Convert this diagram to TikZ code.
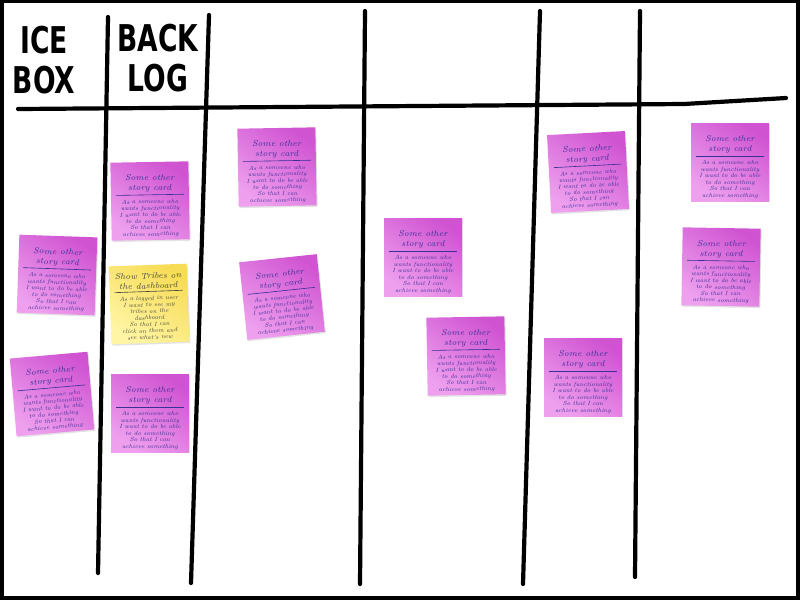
\documentclass[tikz,border=0pt]{standalone}
\usepackage{fontspec}
\newfontfamily\headfont{DejaVu Sans}[FakeStretch=0.72]
\usetikzlibrary{shadows}
\definecolor{noteDark}{RGB}{208,84,210}
\definecolor{noteLight}{RGB}{238,160,238}
\definecolor{yelDark}{RGB}{247,220,85}
\definecolor{yelLight}{RGB}{255,245,165}
\definecolor{inkBlue}{RGB}{58,48,150}
\definecolor{inkGray}{RGB}{70,70,60}
\newcommand\cardbody[3]{\parbox[t][1.5cm][t]{1.52cm}{\centering\itshape
  \fontsize{4.8}{5.7}\selectfont\vspace*{#1}#2\par
  \fontsize{3.4}{3.7}\selectfont
  \nointerlineskip\vspace{1.3pt}\rule{1.36cm}{0.35pt}\par
  \nointerlineskip\vspace{2.4pt}#3\par}}
\newcommand\pinktext{\cardbody{6.3pt}{Some other\\story card}{As a someone who\\wants functionality\\I want to do be able\\to do something\\So that I can\\achieve something}}
\newcommand\yellowtext{\cardbody{3.6pt}{Show Tribes on\\the dashboard}{As a logged in user\\I want to see my\\tribes on the\\dashboard\\So that I can\\click on them and\\see what's new}}
\tikzset{
  board/.style={line width=4.2pt*0.569, line cap=round, line join=round, black},
  card/.style={minimum width=1.56cm, minimum height=1.56cm, inner sep=0pt,
    drop shadow={opacity=0.22, shadow xshift=0.6pt, shadow yshift=-0.8pt}},
  pinkcard/.style={card, top color=noteDark, bottom color=noteLight, shading angle=-35, text=inkBlue},
  yellowcard/.style={card, top color=yelDark, bottom color=yelLight, shading angle=-35, text=inkGray},
  head/.style={font=\headfont\bfseries\fontsize{21}{22.8}\selectfont, align=center, inner sep=0pt}
}
\begin{document}
\begin{tikzpicture}[x=0.02cm, y=-0.02cm]
\useasboundingbox (0,0) rectangle (800,600);
\fill[black] (0,0) rectangle (800,600);
\fill[white] (4,3) rectangle (796,596);
% board lines
\coordinate (h1) at (18,109);
\coordinate (h2) at (684,104);
\coordinate (h3) at (786,98);
\draw[board] (h1) -- (h2) -- (h3);
\coordinate (v1t) at (108,17); \coordinate (v1b) at (98,573);
\coordinate (v2t) at (209,15); \coordinate (v2b) at (191,583);
\coordinate (v3t) at (365,11); \coordinate (v3b) at (360,584);
\coordinate (v4t) at (540,11); \coordinate (v4b) at (523,584);
\coordinate (v5t) at (640,11); \coordinate (v5b) at (635,577);
\draw[board] (v1t) -- (v1b);
\draw[board] (v2t) -- (v2b);
\draw[board] (v3t) -- (v3b);
\draw[board] (v4t) -- (v4b);
\draw[board] (v5t) -- (v5b);
% headers
\node[head] (icebox) at (44,60) {ICE\\BOX};
\node[head] (backlog) at (158,58) {BACK\\LOG};
% cards
\node[pinkcard, rotate=1] (c1) at (150,201) {\pinktext};
\node[yellowcard, rotate=2] (c2) at (149,304) {\yellowtext};
\node[pinkcard] (c3) at (150,413) {\pinktext};
\node[pinkcard, rotate=-2] (c4) at (57,275) {\pinktext};
\node[pinkcard, rotate=5] (c5) at (52,394) {\pinktext};
\node[pinkcard, rotate=1] (c6) at (277,167) {\pinktext};
\node[pinkcard, rotate=6] (c7) at (282,297) {\pinktext};
\node[pinkcard] (c8) at (423,257) {\pinktext};
\node[pinkcard, rotate=1] (c9) at (466,356) {\pinktext};
\node[pinkcard, rotate=3] (c10) at (588,172) {\pinktext};
\node[pinkcard] (c11) at (583,377) {\pinktext};
\node[pinkcard] (c12) at (730,162) {\pinktext};
\node[pinkcard, rotate=-1] (c13) at (721,267) {\pinktext};
\end{tikzpicture}
\end{document}
